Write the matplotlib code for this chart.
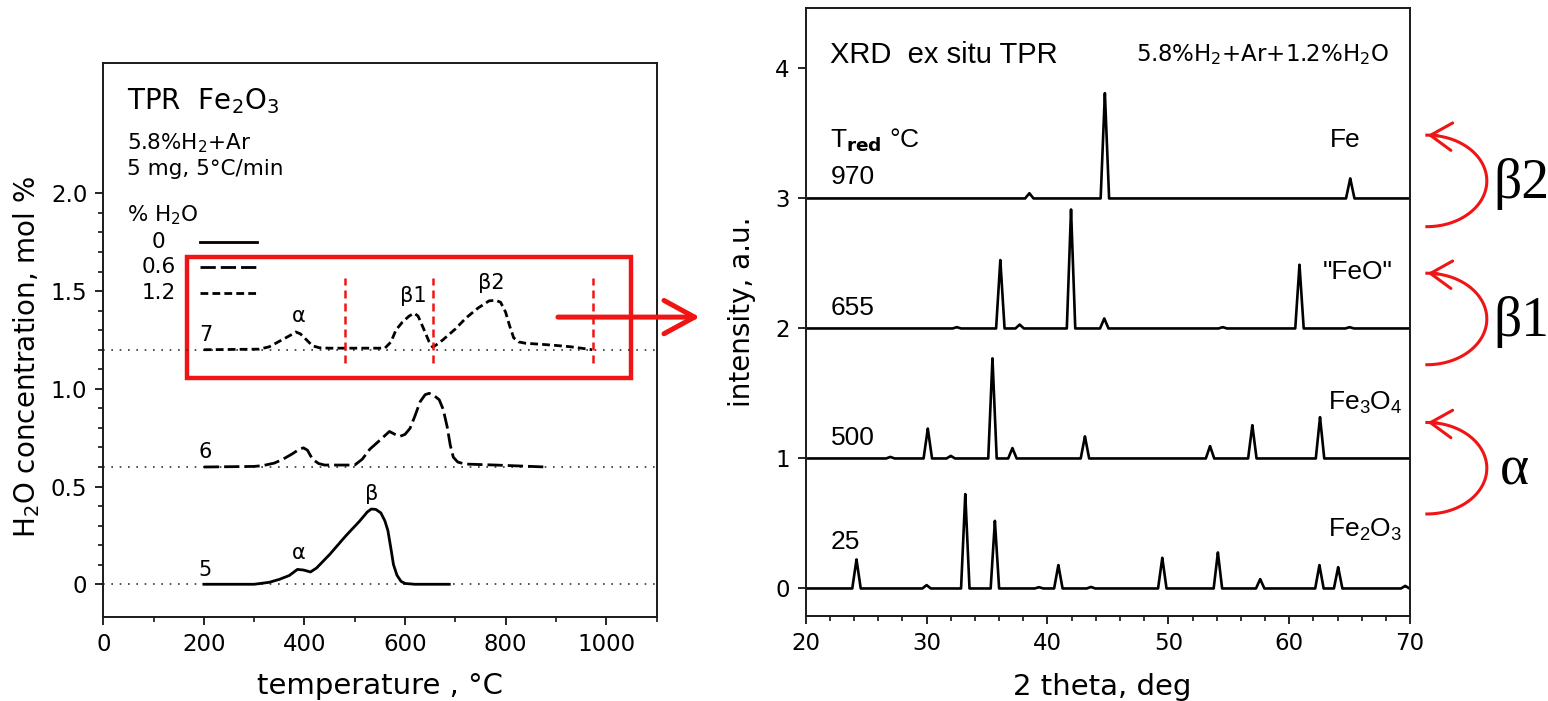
import numpy as np
import matplotlib
matplotlib.use("Agg")
import matplotlib.pyplot as plt
from matplotlib.patches import Rectangle
from matplotlib.ticker import MultipleLocator, FixedLocator, FuncFormatter

plt.rcParams['font.family'] = ['DejaVu Sans']
plt.rcParams['mathtext.default'] = 'regular'

RED = '#f01515'

# TPR profiles: temperature (C) and H2O signal above each baseline (mol %)
tpr_baselines = [0.0, 0.6, 1.2]
tpr_numbers = ['5', '6', '7']

t5 = [200, 300, 330, 350, 370, 386, 398, 412, 424, 450, 482, 510, 525, 533, 542,
      552, 560, 566, 572, 577, 584, 592, 600, 620, 688]
y5 = [0, 0, 0.01, 0.025, 0.045, 0.076, 0.073, 0.063, 0.083, 0.152, 0.247, 0.324,
      0.37, 0.385, 0.383, 0.365, 0.324, 0.274, 0.182, 0.101, 0.046, 0.015, 0.004, 0, 0]

t6 = [200, 300, 317, 340, 356, 375, 390, 398, 406, 416, 428, 440, 500, 515, 530,
      550, 569, 580, 590, 600, 610, 620, 630, 640, 648, 658, 668, 676, 684, 690,
      696, 705, 720, 780, 830, 880]
y6 = [0, 0.003, 0.007, 0.02, 0.038, 0.066, 0.091, 0.098, 0.086, 0.04, 0.018, 0.01,
      0.01, 0.04, 0.091, 0.137, 0.182, 0.167, 0.157, 0.167, 0.198, 0.263, 0.334,
      0.37, 0.377, 0.365, 0.344, 0.294, 0.203, 0.111, 0.05, 0.025, 0.015, 0.01, 0.005, 0]

t7 = [200, 310, 330, 350, 370, 383, 392, 402, 416, 430, 450, 560, 572, 582, 595,
      608, 618, 626, 638, 648, 655, 665, 675, 700, 721, 745, 767, 780, 790, 800,
      808, 816, 826, 840, 870, 900, 930, 950, 972]
y7 = [0, 0.003, 0.015, 0.043, 0.071, 0.091, 0.081, 0.056, 0.02, 0.01, 0.008, 0.008,
      0.04, 0.101, 0.142, 0.172, 0.187, 0.172, 0.101, 0.04, 0.013, 0.03, 0.05, 0.106,
      0.162, 0.213, 0.25, 0.253, 0.243, 0.192, 0.122, 0.061, 0.04, 0.033, 0.028,
      0.022, 0.015, 0.008, 0]

tpr_t = [t5, t6, t7]
tpr_y = [y5, y6, y7]
tpr_styles = ['-', (0, (5.5, 1.8)), (0, (2.8, 1.5))]
legend_h2o = ['0', '0.6', '1.2']

# boundaries between reduction steps (C)
step_limits = [481, 656, 974]

# XRD patterns: peak positions (2 theta) and heights, one trace per T_red
xrd_temps = ['25', '500', '655', '970']
xrd_offsets = [0, 1, 2, 3]
xrd_label_y = [0.358, 1.158, 2.158, 3.165]

pos25 = [24.2, 30.0, 33.2, 35.65, 39.3, 40.9, 43.6, 49.5, 54.1, 57.6, 62.5, 64.05, 69.6]
h25 = [0.223, 0.026, 0.726, 0.52, 0.01, 0.18, 0.012, 0.236, 0.277, 0.072, 0.18, 0.164, 0.02]
pos500 = [27.0, 30.1, 32.0, 35.45, 37.1, 43.1, 53.45, 56.95, 62.55]
h500 = [0.012, 0.23, 0.02, 0.77, 0.08, 0.17, 0.095, 0.256, 0.318]
pos655 = [32.5, 36.1, 37.7, 41.95, 44.7, 54.5, 60.85, 65.0]
h655 = [0.01, 0.526, 0.03, 0.915, 0.077, 0.01, 0.49, 0.01]
pos970 = [38.5, 44.75, 65.05]
h970 = [0.04, 0.81, 0.154]

xrd_pos = [pos25, pos500, pos655, pos970]
xrd_h = [h25, h500, h655, h970]

arc_centers = [0.925, 2.073, 3.135]
arc_labels = ['\u03b1', '\u03b21', '\u03b22']


def stick_profile(pos, h, w=0.35):
    xs, ys = [20.0], [0.0]
    for p, hh in zip(pos, h):
        xs += [p - w, p - 0.1 * w, p, p + 0.1 * w, p + w]
        ys += [0.0, 0.9 * hh, hh, 0.9 * hh, 0.0]
    xs.append(70.0)
    ys.append(0.0)
    return np.array(xs), np.array(ys)


fig = plt.figure(figsize=(15.48, 7.01), dpi=100)
ax1 = fig.add_axes([0.0667, 0.1194, 0.3574, 0.7907])
ax2 = fig.add_axes([0.5205, 0.1213, 0.3904, 0.8673])

for ax in (ax1, ax2):
    for s in ax.spines.values():
        s.set_linewidth(1.4)
        s.set_color('#1a1a1a')
    ax.tick_params(which='major', direction='out', length=5.5, width=1.2,
                   labelsize=16.5, pad=6, top=False, right=False)
    ax.tick_params(which='minor', direction='out', length=3.5, width=1.1,
                   top=False, right=False)

# ---- left: TPR ----
ax1.set_xlim(0, 1100)
ax1.set_ylim(-0.169, 2.667)
ax1.set_xticks([0, 200, 400, 600, 800, 1000])
ax1.xaxis.set_minor_locator(MultipleLocator(100))
ax1.set_yticks([0, 0.5, 1.0, 1.5, 2.0])
ax1.yaxis.set_minor_locator(FixedLocator(np.arange(0, 2.05, 0.1)))
ax1.yaxis.set_major_formatter(FuncFormatter(lambda v, p: '0' if abs(v) < 1e-9 else f'{v:.1f}'))

for base, tt, yy, ls, num in zip(tpr_baselines, tpr_t, tpr_y, tpr_styles, tpr_numbers):
    ax1.axhline(base, color='#333333', lw=1.2, ls=(0, (1, 4)))
    ax1.plot(tt, np.array(yy) + base, color='black', lw=2.0, ls=ls)
    ax1.text(190, base + 0.075, num, fontsize=15, ha='left', va='center')

ax1.text(388, 0.16, '\u03b1', fontsize=15, ha='center', va='center')
ax1.text(533, 0.462, '\u03b2', fontsize=15, ha='center', va='center')
ax1.text(388, 1.372, '\u03b1', fontsize=15, ha='center', va='center')
ax1.text(617, 1.475, '\u03b21', fontsize=15, ha='center', va='center')
ax1.text(771, 1.54, '\u03b22', fontsize=15, ha='center', va='center')

ax1.text(47, 2.47, 'TPR  Fe$_2$O$_3$', fontsize=20, ha='left', va='center')
ax1.text(47, 2.257, '5.8%H$_2$+Ar', fontsize=15.5, ha='left', va='center')
ax1.text(47, 2.125, '5 mg, 5\u00b0C/min', fontsize=15.5, ha='left', va='center')
ax1.text(47, 1.89, '% H$_2$O', fontsize=15.5, ha='left', va='center')
for lab, ls, yl in zip(legend_h2o, tpr_styles, [1.752, 1.625, 1.488]):
    ax1.text(110, yl, lab, fontsize=15.5, ha='center', va='center')
    ax1.plot([192, 306], [yl, yl], color='black', lw=2.0, ls=ls)

for xl in step_limits:
    ax1.plot([xl, xl], [1.13, 1.567], color=RED, lw=1.8, ls=(0, (3.2, 2.0)))
ax1.add_patch(Rectangle((166, 1.054), 884, 0.622, fill=False, edgecolor=RED,
                        lw=3.2, clip_on=False))
ax1.annotate('', xy=(1186, 1.367), xytext=(904, 1.367), annotation_clip=False,
             arrowprops=dict(arrowstyle='->,head_length=0.55,head_width=0.3',
                             mutation_scale=40, color=RED, lw=3.6,
                             shrinkA=0, shrinkB=0))

ax1.set_xlabel('temperature , \u00b0C', fontsize=21)
ax1.xaxis.set_label_coords(0.5, -0.098)
ax1.set_ylabel('H$_2$O concentration, mol %', fontsize=20)
ax1.yaxis.set_label_coords(-0.11, 0.47)

# ---- right: XRD ----
ax2.set_xlim(20, 70)
ax2.set_ylim(-0.2115, 4.465)
ax2.xaxis.set_major_locator(MultipleLocator(10))
ax2.xaxis.set_minor_locator(MultipleLocator(2))
ax2.set_yticks([0, 1, 2, 3, 4])

sans = 'Liberation Sans'
for pos, h, off, tl, ly in zip(xrd_pos, xrd_h, xrd_offsets, xrd_temps, xrd_label_y):
    xs, ys = stick_profile(pos, h)
    ax2.plot(xs, ys + off, color='black', lw=1.9)
    ax2.text(22.05, ly, tl, fontsize=19, family=sans, ha='left', va='center')

ax2.text(63.2, 0.45, 'Fe$_2$O$_3$', fontsize=19, family=sans, ha='left', va='center')
ax2.text(63.2, 1.43, 'Fe$_3$O$_4$', fontsize=19, family=sans, ha='left', va='center')
ax2.text(62.8, 2.435, '"FeO"', fontsize=19, family=sans, ha='left', va='center')
ax2.text(63.4, 3.45, 'Fe', fontsize=19, family=sans, ha='left', va='center')
ax2.text(22.0, 3.45, 'T$_{\\mathbf{red}}$ \u00b0C', fontsize=19, family=sans,
         ha='left', va='center')
ax2.text(22.0, 4.10, 'XRD  ex situ TPR', fontsize=21, family=sans, ha='left', va='center')
ax2.text(47.3, 4.11, '5.8%H$_2$+Ar+1.2%H$_2$O', fontsize=16.5, ha='left', va='center')

ax2.set_xlabel('2 theta, deg', fontsize=21)
ax2.xaxis.set_label_coords(0.49, -0.094)
ax2.set_ylabel('intensity, a.u.', fontsize=20)
ax2.yaxis.set_label_coords(-0.082, 0.5)

# curved arrows marking the reduction steps
th = np.linspace(-np.pi / 2, np.pi / 2, 80)
for yc, lab in zip(arc_centers, arc_labels):
    ax2.plot(71.39 + 4.96 * np.cos(th), yc + 0.352 * np.sin(th), color=RED,
             lw=2.2, clip_on=False)
    ax2.annotate('', xy=(71.45, yc + 0.352), xytext=(72.3, yc + 0.347),
                 annotation_clip=False,
                 arrowprops=dict(arrowstyle='->,head_length=0.7,head_width=0.45',
                                 mutation_scale=22, color=RED, lw=2.2,
                                 shrinkA=0, shrinkB=0))
    ax2.text(76.9 if lab != '\u03b1' else 77.4, yc - 0.02, lab, fontsize=40,
             family='Liberation Serif', ha='left', va='center')

fig.savefig('out.png', dpi=100)
